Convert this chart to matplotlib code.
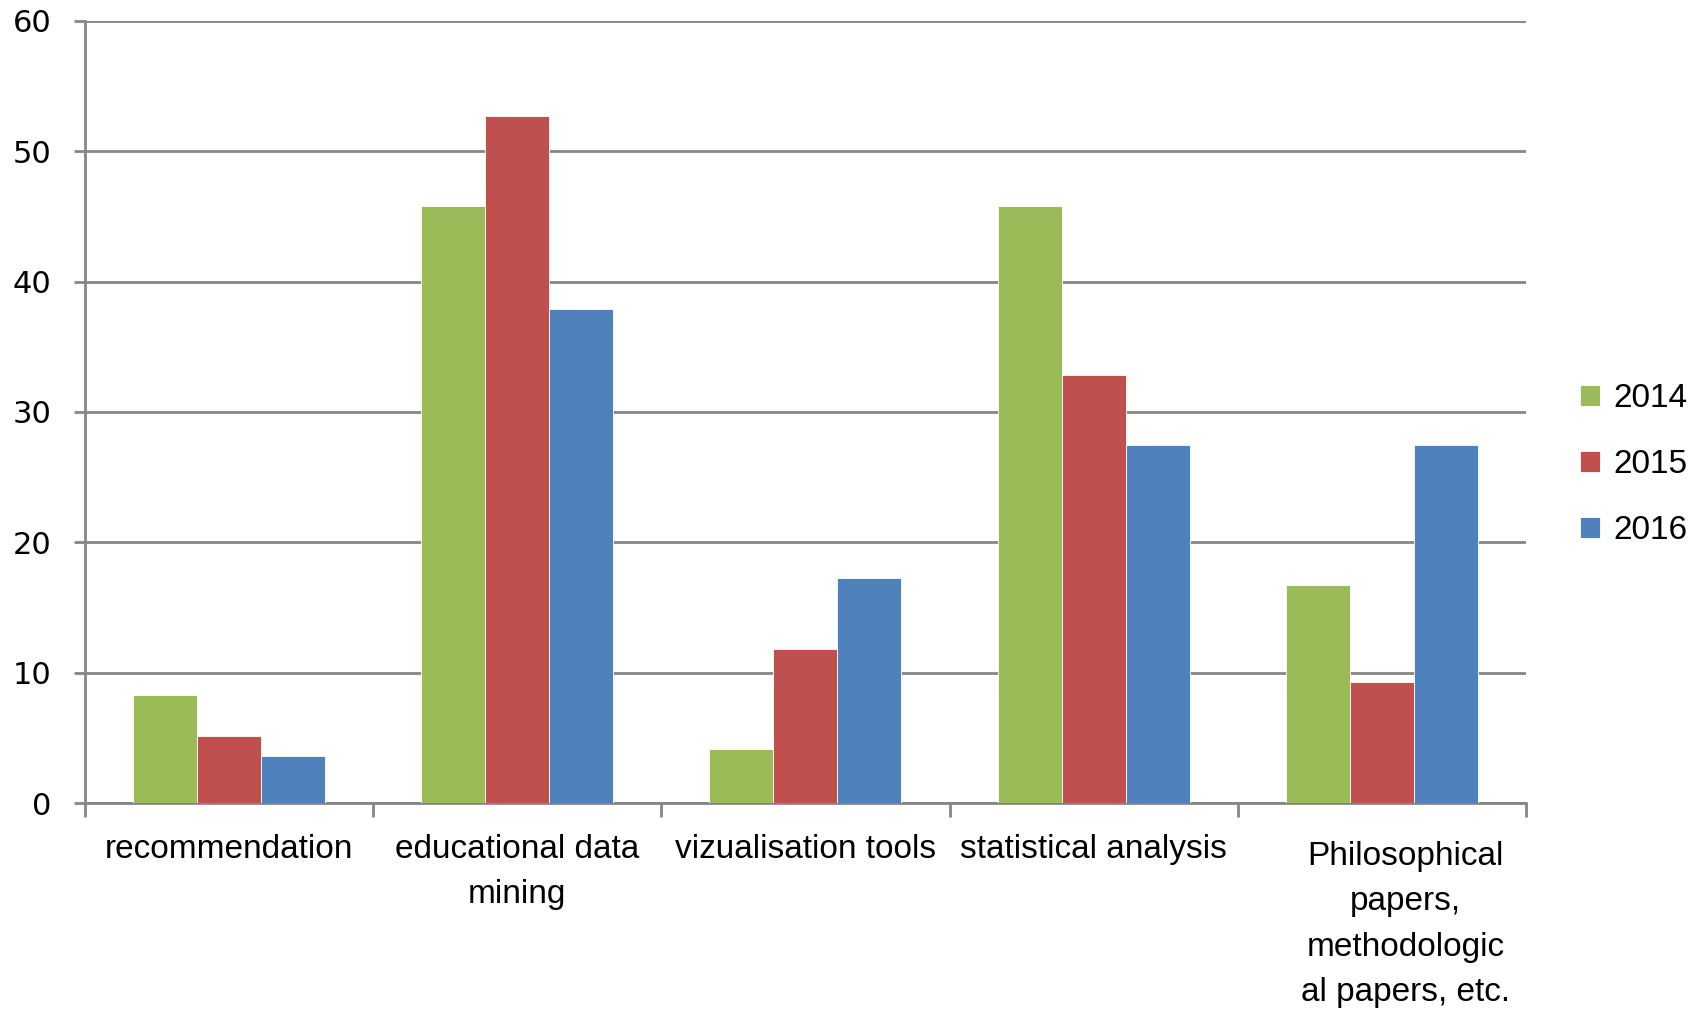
import matplotlib.pyplot as plt
import matplotlib.transforms as mtransforms
import numpy as np

categories = ['recommendation', 'educational data\nmining', 'vizualisation tools',
              'statistical analysis', 'Philosophical\npapers,\nmethodologic\nal papers, etc.']
years = ['2014', '2015', '2016']
vals_2014 = [8.3, 45.8, 4.2, 45.8, 16.7]
vals_2015 = [5.2, 52.7, 11.8, 32.8, 9.3]
vals_2016 = [3.6, 37.9, 17.3, 27.5, 27.5]
colors = ['#9BBB59', '#C0504D', '#4F81BD']
yticks = [0, 10, 20, 30, 40, 50, 60]

label_font = ['Liberation Sans', 'DejaVu Sans']

fig = plt.figure(figsize=(17.02, 10.11), dpi=100)
ax = fig.add_axes([0.0498, 0.2054, 0.8468, 0.7742])

x = np.arange(len(categories))
w = 0.222
for i, (vals, yr) in enumerate(zip([vals_2014, vals_2015, vals_2016], years)):
    ax.bar(x + (i - 1) * w, vals, w, color=colors[i], label=yr, zorder=3,
           edgecolor='white', linewidth=0.6)

ax.set_xlim(-0.5, len(categories) - 0.5)
ax.set_ylim(0, 60)
ax.set_yticks(yticks)
ax.yaxis.grid(True, color='#868686', linewidth=2, zorder=0)
ax.set_axisbelow(True)

for s in ['top', 'right']:
    ax.spines[s].set_visible(False)
for s in ['left', 'bottom']:
    ax.spines[s].set_color('#868686')
    ax.spines[s].set_linewidth(2)

ax.tick_params(axis='y', length=8, width=2, color='#868686', labelsize=22, pad=16)
ax.set_xticks(x)
ax.set_xticklabels(categories, family=label_font, fontsize=24, linespacing=1.6, va='top')
ax.tick_params(axis='x', which='major', length=0, pad=22)
ax.set_xticks(np.arange(len(categories) + 1) - 0.5, minor=True)
ax.tick_params(axis='x', which='minor', length=10, width=2, color='#868686')

# last label sits a bit right and lower in the original
last = ax.get_xticklabels()[-1]
last.set_transform(last.get_transform() +
                   mtransforms.ScaledTranslation(0.24, -0.07, fig.dpi_scale_trans))

leg = ax.legend(loc='center left', bbox_to_anchor=(1.0375, 0.433), frameon=False,
                prop={'family': label_font, 'size': 24}, handlelength=0.6,
                handleheight=0.6, handletextpad=0.4, labelspacing=1.05,
                borderaxespad=0, borderpad=0)

fig.savefig('out.png', dpi=100)
